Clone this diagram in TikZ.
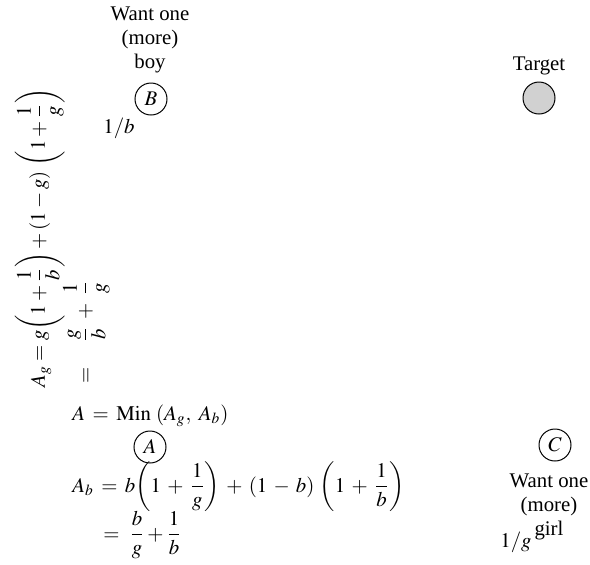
\documentclass[tikz,border=0pt]{standalone}
\usepackage{amsmath}
\usepackage{mathptmx}
\usepackage{fontspec}
\setmainfont{Liberation Serif}
\newcommand{\widemath}{\thickmuskip=6.5mu\medmuskip=5.4mu}
\begin{document}
\begin{tikzpicture}[x=0.5pt,y=-0.5pt,
  font=\fontsize{10.4}{12.2}\selectfont,
  lbl/.style={align=center, inner sep=0},
  txt/.style={inner sep=0},
  circ/.style={circle, draw, minimum size=16pt, inner sep=0, line width=0.5pt},
  tgt/.style={circ, fill=black!18}]
\useasboundingbox (0,0) rectangle (590,564);

% Boy
\node[lbl, anchor=north] (boytxt) at (150,6) {Want one\\(more)\\boy};
\node[circ] (B) at (151,99) {$B$};
\node[txt, anchor=base west] (pb) at (103,133) {$1/b$};

% Target
\node[lbl, anchor=base] (tgttxt) at (539,70) {Target};
\node[tgt] (T) at (539,98) {};

% Girl
\node[circ] (C) at (555,445) {$C$};
\node[lbl, anchor=north] (girltxt) at (549,473) {Want one\\(more)\\girl};
\node[txt, anchor=base west] (pg) at (500,547) {$1/g$};

% A
\node[txt, anchor=base west] (mintxt) at (72,420) {\widemath$A = \mathrm{Min}\ (A_g,\ A_b)$};
\node[circ] (A) at (150,447) {$A$};
\node[txt, anchor=base west] (ab1) at (72,492) {\widemath$A_b = b\biggl(1 + \dfrac{1}{g}\biggr) + (1 - b)\ \biggl(1 + \dfrac{1}{b}\biggr)$};
\node[txt, anchor=base west] (ab2) at (103,540) {$=\ \dfrac{b}{g} + \dfrac{1}{b}$};

% A_g rotated
\node[txt, anchor=base west, rotate=90] (ag1) at (45,388) {$A_g = g\biggl(1 + \dfrac{1}{b}\biggr) + (1 - g)\ \biggl(1 + \dfrac{1}{g}\biggr)$};
\node[txt, anchor=base west, rotate=90] (ag2) at (91,384) {$=\quad \dfrac{g}{b} \;+\; \dfrac{1}{g}$};
\end{tikzpicture}
\end{document}
